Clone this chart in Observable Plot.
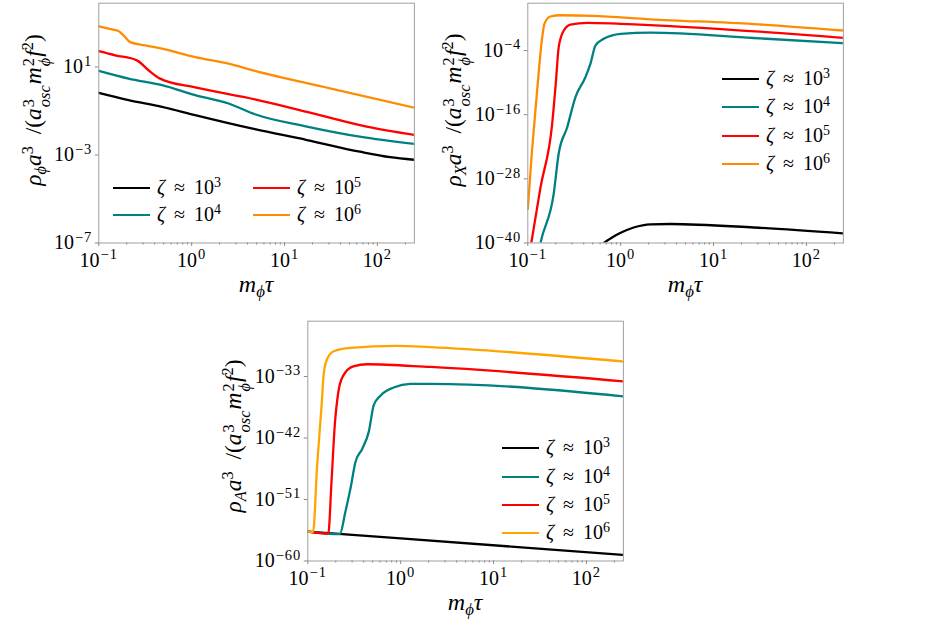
<!DOCTYPE html>
<html><head><meta charset="utf-8">
<script src="https://cdn.jsdelivr.net/npm/d3@7"></script>
<script src="https://cdn.jsdelivr.net/npm/@observablehq/plot@0.6"></script>
<style>
body{margin:0;background:#fff;}
#wrap{position:relative;width:926px;height:627px;overflow:hidden;font-family:"Liberation Serif",serif;color:#000;}
.panel{position:absolute;}
.ylab,.xlab{position:absolute;white-space:nowrap;font-size:23.5px;line-height:1;}
.xlab{font-size:24px;}
.ylab{transform:translate(-50%,-50%) rotate(-90deg);}
.xlab{transform:translate(-50%,-50%);}
.ln{position:absolute;height:0;border-top:2.6px solid;}
.tx{position:absolute;font-size:20px;line-height:1;white-space:nowrap;}
sup{font-size:0.7em;vertical-align:0.5em;line-height:0;}
sub{font-size:0.7em;vertical-align:-0.28em;line-height:0;}
.ss{display:inline-flex;flex-direction:column;font-size:0.7em;vertical-align:0.48em;line-height:1.0;margin:0 1px;}
</style></head>
<body><div id="wrap"></div>
<script>
// ---------- shared axis data ----------
const xDomain = [0.1, 250];
const xMajorTicks = [0.1, 1, 10, 100];
const xMajorLabels = ["10^−1", "10^0", "10^1", "10^2"];
const xMinorTicks = [0.2,0.3,0.4,0.5,0.6,0.7,0.8,0.9,2,3,4,5,6,7,8,9,20,30,40,50,60,70,80,90,200];
const legendExponents = ["3", "4", "5", "6"];
const colorsTop = ["#000000", "#008080", "#ff0000", "#ff8c00"];
const colorsBottom = ["#000000", "#008080", "#ff0000", "#ffa500"];

// ---------- panel 1: rho_phi ----------
const p1YDomain = [1e-7, 7.9e3];
const p1YTicks = [1e-7, 1e-3, 1e1];
const p1YLabels = ["10^−7", "10^−3", "10^1"];
const p1Tau3 = [0.1, 0.209, 0.48, 1.09, 4.8, 17.4, 64.6, 137, 250];
const p1Rho3 = [6.6e-1, 3.09e-1, 1.55e-1, 6.46e-2, 1.48e-2, 4.79e-3, 1.41e-3, 7.94e-4, 6.03e-4];
const p1Tau4 = [0.1, 0.209, 0.48, 1.09, 2.5, 4.8, 17.4, 64.6, 250];
const p1Rho4 = [6.61, 2.95, 1.48, 5.25e-1, 2.19e-1, 7.08e-2, 1.95e-2, 6.76e-3, 3.16e-3];
const p1Tau5 = [0.1, 0.15, 0.257, 0.343, 0.457, 1.09, 4.8, 17.4, 76.6, 250];
const p1Rho5 = [5.25e1, 3.39e1, 2.0e1, 7.08, 2.95, 1.17, 3.35e-1, 9.12e-2, 1.95e-2, 8.13e-3];
const p1Tau6 = [0.1, 0.127, 0.163, 0.185, 0.218, 0.316, 0.48, 1.09, 2.5, 4.8, 30, 250];
const p1Rho6 = [7.08e2, 5.5e2, 4.27e2, 2.69e2, 1.35e2, 9.55e1, 6.76e1, 2.82e1, 1.41e1, 6.61, 1.10, 1.40e-1];

// ---------- panel 2: rho_X ----------
const p2YDomain = [1e-40, 7.2e4];
const p2YTicks = [1e-40, 1e-28, 1e-16, 1e-4];
const p2YLabels = ["10^−40", "10^−28", "10^−16", "10^−4"];
const p2Tau3 = [0.6, 0.8, 1.0, 1.38, 2.09, 3.42, 27, 250];
const p2Rho3 = [3.16e-41, 1e-39, 7.94e-39, 7.94e-38, 3.16e-37, 3.55e-37, 7.94e-38, 6.31e-39];
const p2Tau4 = [0.13, 0.137, 0.19, 0.215, 0.265, 0.326, 0.417, 0.472, 0.535, 0.656, 1.0, 2.09, 27, 250];
const p2Rho4 = [1e-42, 1e-40, 1.58e-31, 5.01e-24, 3.98e-19, 2.0e-13, 1e-9, 3.16e-7, 8.71e-4, 1.58e-2, 1.35e-1, 2.34e-1, 2.24e-2, 2.34e-3];
const p2Tau5 = [0.1, 0.109, 0.137, 0.183, 0.2, 0.215, 0.244, 0.288, 0.436, 1.0, 250];
const p2Rho5 = [2.0e-44, 1e-40, 2.51e-30, 2.0e-18, 6.31e-11, 3.98e-4, 5.62e-1, 7.41, 15.5, 10, 2.4e-2];
const p2Tau6 = [0.1, 0.111, 0.126, 0.143, 0.151, 0.175, 0.225, 0.5, 2.09, 27, 250];
const p2Rho6 = [2.24e-34, 2.0e-23, 3.16e-12, 3.16e-2, 10, 234, 398, 316, 70.8, 8.91, 0.562];

// ---------- panel 3: rho_A ----------
const p3YDomain = [1e-60, 1.26e-25];
const p3YTicks = [1e-60, 1e-51, 1e-42, 1e-33];
const p3YLabels = ["10^−60", "10^−51", "10^−42", "10^−33"];
const p3Tau3 = [0.1, 1.0, 250];
const p3Rho3 = [2.0e-56, 2.0e-57, 7.94e-60];
const p3Tau4 = [0.1, 0.221, 0.254, 0.288, 0.326, 0.385, 0.453, 0.513, 0.605, 0.841, 1.27, 2.09, 250];
const p3Rho4 = [2.0e-56, 8.51e-57, 1.58e-53, 3.98e-50, 3.16e-46, 2.51e-44, 7.94e-42, 6.31e-38, 1.58e-36, 2.51e-35, 8.51e-35, 8.51e-35, 1.26e-36];
const p3Tau5 = [0.1, 0.166, 0.18, 0.195, 0.213, 0.24, 0.309, 0.437, 2.09, 250];
const p3Rho5 = [2.0e-56, 1e-56, 3.98e-49, 6.31e-41, 5.01e-36, 1.26e-33, 3.16e-32, 6.31e-32, 2.51e-32, 2.0e-34];
const p3Tau6 = [0.1, 0.114, 0.126, 0.14, 0.149, 0.162, 0.19, 0.288, 0.91, 2.09, 250];
const p3Rho6 = [2.0e-56, 1.78e-56, 1e-46, 2.0e-38, 3.98e-33, 3.98e-31, 5.01e-30, 1.58e-29, 3.16e-29, 2.0e-29, 1.58e-31];

// ---------- layout ----------
const wrap = document.getElementById("wrap");
const FW = 315.6, FH = 239.8;
const xLabelMap = new Map(xMajorTicks.map((t, i) => [t, xMajorLabels[i]]));

function supify(svg) {
  svg.querySelectorAll("text").forEach(t => {
    const s = t.textContent;
    if (!s.includes("^")) return;
    const [base, exp] = s.split("^");
    t.textContent = base;
    const ts = document.createElementNS("http://www.w3.org/2000/svg", "tspan");
    ts.setAttribute("dy", "-7.5");
    ts.setAttribute("dx", "1");
    ts.setAttribute("font-size", "14.5");
    ts.setAttribute("letter-spacing", "1");
    ts.textContent = exp;
    t.appendChild(ts);
  });
}

function drawPanel(p) {
  const yLabelMap = new Map(p.yTicks.map((t, i) => [t, p.yLabels[i]]));
  const ml = p.ml, mt = p.mt, mr = 14, mb = 40;
  const lines = p.series.map(s =>
    Plot.line(s.x.map((x, i) => ({x, y: s.y[i]})), {
      x: "x", y: "y", stroke: s.color, strokeWidth: 2.3, curve: "monotone-x", clip: true
    }));
  const svg = Plot.plot({
    width: ml + FW + mr,
    height: mt + FH + mb,
    marginLeft: ml, marginTop: mt, marginRight: mr, marginBottom: mb,
    style: {fontFamily: "'Liberation Serif', serif", fontSize: "20px", color: "#000", background: "transparent", overflow: "visible"},
    x: {type: "log", domain: xDomain},
    y: {type: "log", domain: p.yDomain},
    marks: [
      ...lines,
      Plot.frame({stroke: "#a0a0a0", strokeWidth: 1}),
      Plot.axisX({ticks: xMinorTicks, tickSize: 2, fill: "none", stroke: "#888", label: null}),
      Plot.axisX({ticks: xMajorTicks, tickSize: 3.5, tickPadding: 6, tickFormat: d => xLabelMap.get(d), stroke: "#888", fill: "#000", label: null}),
      Plot.axisY({ticks: p.yTicks, tickSize: 3.5, tickPadding: 3, tickFormat: d => yLabelMap.get(d), stroke: "#888", fill: "#000", label: null})
    ]
  });
  supify(svg);
  const box = document.createElement("div");
  box.className = "panel";
  box.style.left = p.left + "px";
  box.style.top = p.top + "px";
  box.appendChild(svg);
  wrap.appendChild(box);

  // axis labels
  const yl = document.createElement("div");
  yl.className = "ylab";
  yl.style.left = p.ylab[0] + "px";
  yl.style.top = p.ylab[1] + "px";
  yl.innerHTML = `<i>ρ</i><sub><i>${p.sub}</i></sub><i>a</i><sup>3</sup> &nbsp;/(<i>a</i><span class="ss"><span>3</span><span><i>osc</i></span></span><i>m</i><span class="ss"><span>2</span><span><i>ϕ</i></span></span><i>f</i><sup>2</sup>)`;
  wrap.appendChild(yl);
  const xl = document.createElement("div");
  xl.className = "xlab";
  xl.style.left = (p.left + ml + FW / 2) + "px";
  xl.style.top = (p.top + mt + FH + 41) + "px";
  xl.innerHTML = `<i>m</i><sub><i>ϕ</i></sub><i>τ</i>`;
  wrap.appendChild(xl);

  // legend
  p.legend.forEach((e, i) => {
    const ln = document.createElement("div");
    ln.className = "ln";
    ln.style.left = e[0] + "px";
    ln.style.top = (e[1] - 1.3) + "px";
    ln.style.width = "37px";
    ln.style.borderTopColor = p.series[i].color;
    wrap.appendChild(ln);
    const tx = document.createElement("div");
    tx.className = "tx";
    tx.style.left = (e[0] + 44) + "px";
    tx.style.top = (e[1] - 11.5) + "px";
    tx.innerHTML = `<i>ζ</i>&thinsp; ≈ &thinsp;10<sup>${legendExponents[i]}</sup>`;
    wrap.appendChild(tx);
  });
}

drawPanel({
  left: 0, top: 0, ml: 98.3, mt: 2.7, sub: "ϕ",
  yDomain: p1YDomain, yTicks: p1YTicks, yLabels: p1YLabels,
  ylab: [37, 110],
  series: [
    {x: p1Tau3, y: p1Rho3, color: colorsTop[0]},
    {x: p1Tau4, y: p1Rho4, color: colorsTop[1]},
    {x: p1Tau5, y: p1Rho5, color: colorsTop[2]},
    {x: p1Tau6, y: p1Rho6, color: colorsTop[3]}
  ],
  legend: [[113, 188], [113, 215], [253, 188], [253, 215]]
});
drawPanel({
  left: 420, top: 0, ml: 107.3, mt: 2.7, sub: "X",
  yDomain: p2YDomain, yTicks: p2YTicks, yLabels: p2YLabels,
  ylab: [457, 110],
  series: [
    {x: p2Tau3, y: p2Rho3, color: colorsTop[0]},
    {x: p2Tau4, y: p2Rho4, color: colorsTop[1]},
    {x: p2Tau5, y: p2Rho5, color: colorsTop[2]},
    {x: p2Tau6, y: p2Rho6, color: colorsTop[3]}
  ],
  legend: [[722, 79], [722, 107], [722, 136], [722, 164]]
});
drawPanel({
  left: 200, top: 318, ml: 107.3, mt: 2.7, sub: "A",
  yDomain: p3YDomain, yTicks: p3YTicks, yLabels: p3YLabels,
  ylab: [237, 436],
  series: [
    {x: p3Tau3, y: p3Rho3, color: colorsBottom[0]},
    {x: p3Tau4, y: p3Rho4, color: colorsBottom[1]},
    {x: p3Tau5, y: p3Rho5, color: colorsBottom[2]},
    {x: p3Tau6, y: p3Rho6, color: colorsBottom[3]}
  ],
  legend: [[502, 448], [502, 477], [502, 505], [502, 533]]
});
</script>
</body></html>
